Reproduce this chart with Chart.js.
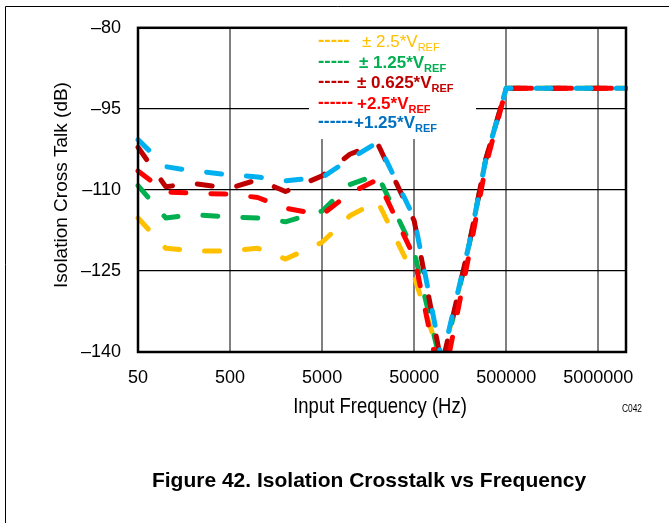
<!DOCTYPE html>
<html>
<head>
<meta charset="utf-8">
<script src="https://cdn.jsdelivr.net/npm/chart.js"></script>
<style>
  html, body { margin: 0; padding: 0; background: #fff; }
  canvas { display: block; }
</style>
</head>
<body>
<canvas id="c" width="669" height="523"></canvas>
<script>
// values
const freqs = [50, 100, 200, 500, 1000, 2000, 5000, 10000, 20000, 50000, 100000, 200000, 300000, 500000, 1000000, 10000000];
const bip25  = [-115.2, -120.8, -121.3, -121.3, -120.8, -122.8, -119.7, -114.8, -112.1, -126.0, -142.0, -119.7, -104.3, -91.2, -91.2, -91.2];
const bip125 = [-109.2, -115.2, -114.6, -115.0, -115.2, -115.9, -113.9, -109.0, -107.2, -121.5, -143.0, -119.7, -104.3, -91.2, -91.2, -91.2];
const bip0625 = [-102.1, -109.4, -108.8, -109.7, -108.1, -110.3, -107.4, -103.4, -101.4, -115.7, -142.5, -119.7, -104.3, -91.2, -91.2, -91.2];
const uni25  = [-106.5, -110.4, -110.6, -110.8, -111.4, -113.4, -114.6, -110.6, -108.1, -122.4, -147.0, -121.5, -105.5, -91.2, -91.2, -91.2];
const uni125 = [-100.7, -105.7, -106.5, -107.2, -107.6, -108.3, -107.7, -104.3, -101.2, -115.2, -141.5, -119.7, -104.3, -91.2, -91.2, -91.2];

const xTicks = [50, 500, 5000, 50000, 500000, 5000000];
const yTicks = [-140, -125, -110, -95, -80];

const names = ['± 2.5*V', '± 1.25*V', '± 0.625*V', '+2.5*V', '+1.25*V'];
const dashTxt = ['-----', '-----', '-----', '------', '------'];
const lineCols = ['#FFC000', '#00B050', '#C00000', '#FF0000', '#00B0F0'];
const textCols = ['#FFC000', '#00B050', '#C00000', '#FF0000', '#0070C0'];
const series = [bip25, bip125, bip0625, uni25, uni125];

const sans = "'Liberation Sans', Arial, sans-serif";

const datasets = series.map((s, i) => ({
  label: names[i],
  data: freqs.map((f, k) => ({ x: f, y: s[k] })),
  borderColor: lineCols[i],
  borderWidth: 5,
  borderDash: [15, 25],
  borderCapStyle: 'round',
  borderJoinStyle: 'round',
  pointRadius: 0,
  tension: 0,
  fill: false,
  order: 5 - i,
  clip: { left: 3, top: 3, right: 2, bottom: 0 }
}));

// squeezed text, the figure uses a narrow face
function narrowText(ctx, txt, x, y, font, sx) {
  ctx.save();
  ctx.translate(x, y);
  ctx.scale(sx, 1);
  ctx.font = font;
  ctx.fillText(txt, 0, 0);
  ctx.restore();
}

// white legend box, text legend, frame, titles
const extras = {
  id: 'extras',
  beforeDatasetsDraw(chart) {
    const ctx = chart.ctx;
    ctx.save();
    ctx.fillStyle = '#fff';
    ctx.fillRect(309, 24, 167, 115);
    const base = [47, 68, 88, 109, 128];
    const tx = [362, 359, 357, 357, 354];
    for (let i = 0; i < names.length; i++) {
      const w = i === 0 ? 'normal' : 'bold';
      ctx.fillStyle = textCols[i];
      ctx.textBaseline = 'alphabetic';
      ctx.textAlign = 'left';
      ctx.font = 'bold ' + (i < 3 ? 19 : 17.5) + 'px ' + sans;
      ctx.fillText(dashTxt[i], 318, base[i] - 1);
      ctx.font = w + ' 17px ' + sans;
      ctx.fillText(names[i], tx[i], base[i]);
      const tw = ctx.measureText(names[i]).width;
      ctx.font = w + ' 11px ' + sans;
      ctx.fillText('REF', tx[i] + tw, base[i] + 4);
    }
    ctx.restore();
  },
  afterDatasetsDraw(chart) {
    const ctx = chart.ctx;
    const a = chart.chartArea;
    ctx.save();
    ctx.strokeStyle = '#000';
    ctx.lineWidth = 2.5;
    ctx.strokeRect(a.left, a.top, a.right - a.left, a.bottom - a.top);
    ctx.restore();
  },
  afterDraw(chart) {
    const ctx = chart.ctx;
    ctx.save();
    ctx.strokeStyle = '#000';
    ctx.lineWidth = 1;
    ctx.beginPath();
    ctx.moveTo(5.5, 523);
    ctx.lineTo(5.5, 6.5);
    ctx.lineTo(669, 6.5);
    ctx.stroke();

    ctx.fillStyle = '#000';
    ctx.textAlign = 'center';
    ctx.textBaseline = 'middle';
    narrowText(ctx, 'Input Frequency (Hz)', 380, 407, '22px ' + sans, 0.84);
    narrowText(ctx, 'C042', 632, 409, '10px ' + sans, 0.84);
    ctx.font = 'bold 21px ' + sans;
    ctx.fillText('Figure 42. Isolation Crosstalk vs Frequency', 369, 481);

    ctx.translate(62, 185);
    ctx.rotate(-Math.PI / 2);
    ctx.font = '19px ' + sans;
    ctx.fillText('Isolation Cross Talk (dB)', 0, 0);
    ctx.restore();
  }
};

new Chart(document.getElementById('c'), {
  type: 'line',
  data: { datasets: datasets },
  options: {
    responsive: false,
    animation: false,
    events: [],
    layout: { padding: { left: 0, top: 21, right: 43, bottom: 111 } },
    plugins: { legend: { display: false }, tooltip: { enabled: false } },
    scales: {
      x: {
        type: 'logarithmic',
        min: 50,
        max: 10000000,
        afterBuildTicks: s => { s.ticks = xTicks.map(v => ({ value: v })); },
        afterFit: s => { s.height = 60; },
        grid: { color: '#808080', lineWidth: 2, drawTicks: false },
        border: { display: false },
        ticks: {
          autoSkip: false,
          maxRotation: 0,
          padding: 15,
          color: '#000',
          font: { family: sans, size: 18 },
          callback: v => String(v)
        }
      },
      y: {
        min: -140,
        max: -80,
        afterBuildTicks: s => { s.ticks = yTicks.map(v => ({ value: v })); },
        afterFit: s => { s.width = 138; },
        grid: { color: '#000', lineWidth: 1.3, drawTicks: false },
        border: { display: false },
        ticks: {
          padding: 17,
          color: '#000',
          font: { family: sans, size: 18 },
          callback: v => '\u2013' + Math.abs(v)
        }
      }
    }
  },
  plugins: [extras]
});
</script>
</body>
</html>
